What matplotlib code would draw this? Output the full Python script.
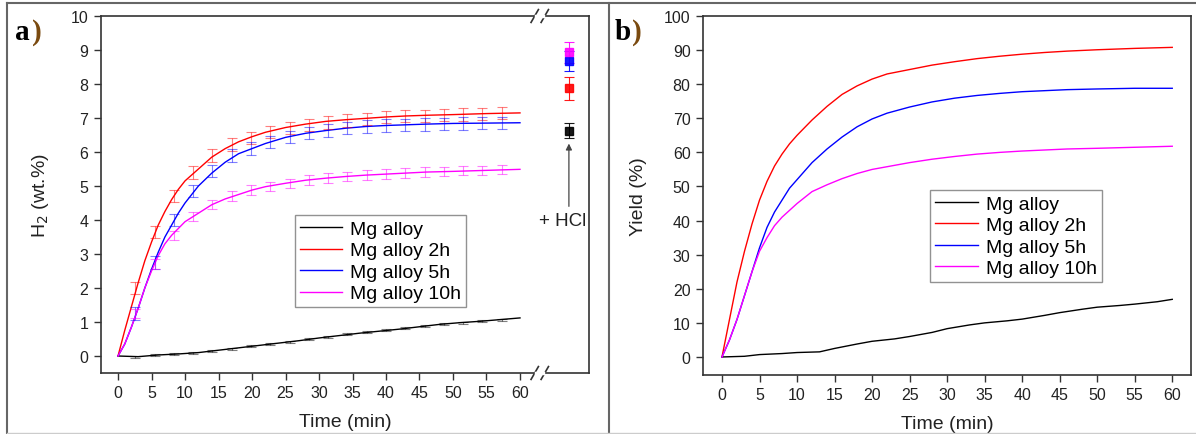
import numpy as np
import matplotlib.pyplot as plt
from matplotlib.lines import Line2D

plt.rcParams['font.family'] = ['Liberation Sans', 'DejaVu Sans']

labels = ["Mg alloy", "Mg alloy 2h", "Mg alloy 5h", "Mg alloy 10h"]
colors = ["#000000", "#ff0000", "#0000ff", "#ff00ff"]

# ---- panel a: H2 (wt.%) ----
t_a = [0, 1, 2, 3, 4, 5, 6, 7, 8, 9, 10, 12, 14, 16, 18, 20, 22, 25, 28, 31, 34, 37, 40, 43, 46, 50, 55, 60]
h2_2h = [0, 0.75, 1.45, 2.15, 2.8, 3.35, 3.85, 4.25, 4.6, 4.9, 5.15, 5.5, 5.85, 6.1, 6.3, 6.45, 6.58, 6.72, 6.82, 6.9, 6.95, 6.99, 7.03, 7.06, 7.08, 7.1, 7.13, 7.15]
h2_5h = [0, 0.35, 0.85, 1.4, 2.0, 2.55, 3.05, 3.5, 3.85, 4.2, 4.5, 5.0, 5.38, 5.7, 5.95, 6.1, 6.25, 6.43, 6.55, 6.63, 6.7, 6.75, 6.78, 6.8, 6.82, 6.84, 6.85, 6.86]
h2_10h = [0, 0.35, 0.85, 1.4, 2.0, 2.5, 2.95, 3.3, 3.55, 3.75, 3.95, 4.2, 4.45, 4.62, 4.75, 4.88, 4.98, 5.08, 5.17, 5.23, 5.28, 5.32, 5.35, 5.38, 5.41, 5.43, 5.46, 5.49]
t_a0 = [0, 3, 6, 9, 12, 15, 18, 21, 24, 27, 30, 33, 36, 39, 42, 45, 48, 51, 54, 57, 60]
h2_0 = [0, -0.02, 0.03, 0.06, 0.1, 0.17, 0.24, 0.31, 0.38, 0.45, 0.53, 0.6, 0.67, 0.73, 0.79, 0.86, 0.93, 0.98, 1.02, 1.07, 1.12]

# error bar points
err_t = [2.6, 5.5, 8.3, 11.2, 14.1, 17.0, 19.9, 22.7, 25.6, 28.5, 31.4, 34.2, 37.1, 40.0, 42.9, 45.8, 48.6, 51.5, 54.4, 57.3]
err_0 = [-0.02, 0.02, 0.05, 0.09, 0.15, 0.22, 0.29, 0.35, 0.42, 0.5, 0.57, 0.64, 0.7, 0.76, 0.82, 0.88, 0.94, 0.98, 1.02, 1.07]
err_2h = [2.0, 3.65, 4.7, 5.4, 5.9, 6.22, 6.42, 6.58, 6.7, 6.8, 6.87, 6.93, 6.98, 7.02, 7.05, 7.07, 7.09, 7.1, 7.12, 7.14]
err_5h = [1.25, 2.75, 4.0, 4.85, 5.45, 5.9, 6.1, 6.3, 6.45, 6.55, 6.63, 6.7, 6.75, 6.78, 6.79, 6.81, 6.83, 6.84, 6.85, 6.86]
err_10h = [1.25, 2.7, 3.55, 4.1, 4.45, 4.7, 4.88, 4.98, 5.08, 5.17, 5.23, 5.28, 5.32, 5.35, 5.38, 5.41, 5.43, 5.45, 5.46, 5.48]
err_size = [0.03, 0.18, 0.18, 0.14]

# after HCl addition
hcl_vals = [6.63, 7.87, 8.68, 8.93]
hcl_err = [0.22, 0.33, 0.3, 0.32]

# ---- panel b: yield (%) ----
t_b = [0, 1, 2, 3, 4, 5, 6, 7, 8, 9, 10, 12, 14, 16, 18, 20, 22, 25, 28, 31, 34, 37, 40, 43, 46, 50, 55, 60]
y_2h = [0, 11, 22, 31, 39, 46, 51.5, 56, 59.5, 62.5, 65, 69.5, 73.5, 77, 79.5, 81.5, 83, 84.3, 85.6, 86.6, 87.5, 88.2, 88.8, 89.3, 89.7, 90.1, 90.5, 90.8]
y_5h = [0, 5, 11, 18, 25, 32, 38, 42.5, 46, 49.5, 52, 57, 61, 64.5, 67.5, 69.8, 71.5, 73.3, 74.8, 75.9, 76.7, 77.3, 77.8, 78.1, 78.4, 78.6, 78.8, 78.8]
y_10h = [0, 5, 11, 18, 25, 31, 35, 38.5, 41, 43, 45, 48.5, 50.5, 52.3, 53.8, 55, 55.8, 57, 58, 58.8, 59.5, 60, 60.4, 60.7, 61, 61.2, 61.5, 61.8]
t_b0 = [0, 3, 5, 8, 10, 13, 15, 18, 20, 23, 25, 28, 30, 33, 35, 38, 40, 43, 45, 48, 50, 53, 55, 58, 60]
y_0 = [0, 0.2, 0.7, 1.0, 1.3, 1.5, 2.5, 3.8, 4.6, 5.3, 6.0, 7.2, 8.3, 9.4, 10.0, 10.6, 11.1, 12.2, 13.0, 14.0, 14.6, 15.1, 15.5, 16.2, 16.9]

W, H = 1196, 435
fig = plt.figure(figsize=(W / 100, H / 100), dpi=100)
ax1 = fig.add_axes([101 / W, (H - 374) / H, (589 - 101) / W, (374 - 17) / H])
ax2 = fig.add_axes([703 / W, (H - 375.7) / H, (1191 - 703) / W, (375.7 - 17) / H])

for ax in (ax1, ax2):
    for s in ax.spines.values():
        s.set_color("#333333")
        s.set_linewidth(1.2)
    ax.tick_params(direction="out", length=5, width=1, labelsize=11.5, colors="#333333",
                   labelcolor="#222222", pad=4)
    ax.set_xticks(np.arange(0, 61, 5))
    ax.set_xlabel("Time (min)", fontsize=14, color="#222222", labelpad=9)

# panel a
ax1.plot(t_a0, h2_0, color=colors[0], lw=1, label=labels[0])
ax1.plot(t_a, h2_2h, color=colors[1], lw=1, label=labels[1])
ax1.plot(t_a, h2_5h, color=colors[2], lw=1, label=labels[2])
ax1.plot(t_a, h2_10h, color=colors[3], lw=1, label=labels[3])
for vals, c, e in zip([err_0, err_2h, err_5h, err_10h], colors, err_size):
    ax1.errorbar(err_t, vals, yerr=e, fmt="none", ecolor=c, elinewidth=0.8,
                 capsize=3.5, capthick=0.8, alpha=0.5)

x_hcl = 67.3
for v, e, c in zip(hcl_vals, hcl_err, colors):
    ax1.errorbar([x_hcl], [v], yerr=e, fmt="s", color=c, ms=5.5, elinewidth=0.8,
                 capsize=3.5, capthick=0.8, ecolor=c, alpha=0.9, clip_on=False)
ax1.annotate("", xy=(x_hcl, 6.33), xytext=(x_hcl, 4.32),
             arrowprops=dict(arrowstyle="-|>", color="#444444", lw=0.9, mutation_scale=9))
ax1.text(66.4, 3.98, "+ HCl", ha="center", va="center", fontsize=13.5, color="#222222")

ax1.set_xlim(-2.54, 70.3)
ax1.set_ylim(-0.5, 10)
ax1.set_yticks(np.arange(0, 11, 1))
ax1.set_ylabel("H$_2$ (wt.%)", fontsize=14, color="#222222", labelpad=14)
ax1.legend(loc="lower left", bbox_to_anchor=(0.397, 0.184), fontsize=14, frameon=True,
           fancybox=False, edgecolor="#777777", handlelength=2.2, labelspacing=0.2,
           borderpad=0.25, handletextpad=0.4, borderaxespad=0)

# axis break marks
for xb in (62.2, 63.7):
    for yb in (0, 1):
        ax1.plot([xb - 0.55, xb + 0.55], [yb - 0.018, yb + 0.018], color="#333333", lw=1.2,
                 transform=ax1.get_xaxis_transform(), clip_on=False)
for yb in (0, 1):
    ax1.plot([62.4, 63.5], [yb, yb], color="white", lw=2.5,
             transform=ax1.get_xaxis_transform(), clip_on=False, zorder=5)

# panel b
ax2.plot(t_b0, y_0, color=colors[0], lw=1, label=labels[0])
ax2.plot(t_b, y_2h, color=colors[1], lw=1, label=labels[1])
ax2.plot(t_b, y_5h, color=colors[2], lw=1, label=labels[2])
ax2.plot(t_b, y_10h, color=colors[3], lw=1, label=labels[3])
ax2.set_xlim(-2.53, 62.5)
ax2.set_ylim(-5.2, 100)
ax2.set_yticks(np.arange(0, 101, 10))
ax2.set_ylabel("Yield (%)", fontsize=14, color="#222222", labelpad=12)
ax2.legend(loc="lower left", bbox_to_anchor=(0.466, 0.258), fontsize=14, frameon=True,
           fancybox=False, edgecolor="#777777", handlelength=2.2, labelspacing=0.2,
           borderpad=0.25, handletextpad=0.4, borderaxespad=0)

# panel letters
for x0, let in ((15, "a"), (615, "b")):
    fig.text(x0 / W, 1 - 32 / H, let, fontsize=21, fontweight="bold", family="Liberation Serif",
             va="center", ha="left")
    fig.text((x0 + 17) / W, 1 - 32 / H, ")", fontsize=21, fontweight="bold", family="Liberation Serif",
             va="center", ha="left", color="#7a4a10")

# frame lines of the figure
frame = "#666666"
fig.add_artist(Line2D([7 / W, 1], [1 - 3.5 / H, 1 - 3.5 / H], color=frame, lw=1.5))
fig.add_artist(Line2D([7 / W, 7 / W], [0, 1 - 3.5 / H], color=frame, lw=1.5))
fig.add_artist(Line2D([609 / W, 609 / W], [0, 1 - 3.5 / H], color=frame, lw=1.5))
fig.add_artist(Line2D([7 / W, 1], [1.5 / H, 1.5 / H], color="#cccccc", lw=1))

fig.savefig("out.png", dpi=100)
